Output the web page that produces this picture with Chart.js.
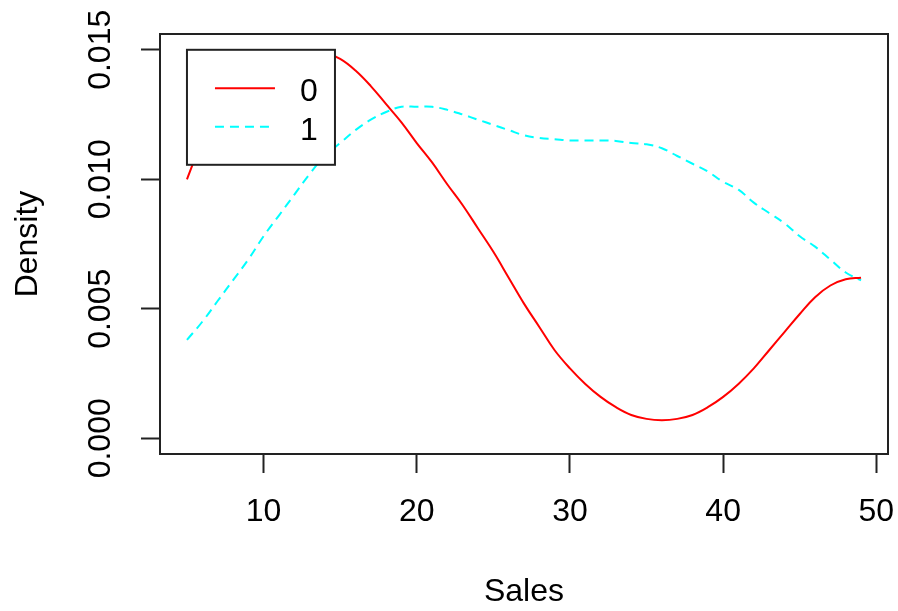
<!DOCTYPE html>
<html>
<head>
<meta charset="utf-8">
<script src="https://cdn.jsdelivr.net/npm/chart.js@4/dist/chart.umd.min.js"></script>
<style>
  html, body { margin: 0; padding: 0; background: #ffffff; }
  #wrap { width: 898px; height: 611px; }
</style>
</head>
<body>
<div id="wrap"><canvas id="c" width="898" height="611"></canvas></div>
<script>
// ---- data ----
const salesX = [5,6,7,8,9,10,11,12,13,14,15,16,17,18,19,20,21,22,23,24,25,26,27,28,29,30,31,32,33,34,35,36,37,38,39,40,41,42,43,44,45,46,47,48,49];
const density0 = [0.0100,0.0115,0.0127,0.0136,0.0142,0.0146,0.01485,0.01495,0.01495,0.01488,0.01465,0.0142,0.0136,0.0129,0.0122,0.0114,0.01065,0.0098,0.0090,0.0081,0.0072,0.0062,0.0052,0.0043,0.0034,0.0027,0.0021,0.0016,0.0012,0.0009,0.00075,0.0007,0.00075,0.0009,0.0012,0.0016,0.0021,0.0027,0.0034,0.0041,0.0048,0.00545,0.0059,0.00614,0.0062];
const density1 = [0.0038,0.0045,0.0053,0.0061,0.0069,0.0078,0.0086,0.0094,0.0102,0.0109,0.0114,0.0119,0.0123,0.0126,0.0128,0.0128,0.0128,0.01268,0.0125,0.0123,0.0121,0.0119,0.0117,0.0116,0.01155,0.0115,0.0115,0.0115,0.01148,0.0114,0.01135,0.0112,0.0109,0.0106,0.0103,0.0099,0.0096,0.0091,0.0087,0.0083,0.0078,0.0074,0.0069,0.0064,0.0061];
const seriesNames = ["0", "1"];
const xTicks = [10, 20, 30, 40, 50];
const yTicks = [0.000, 0.005, 0.010, 0.015];
const xTitle = "Sales";
const yTitle = "Density";

const FONT = "'Liberation Sans', Arial, sans-serif";
const FS = 32;

const toPts = (ys) => salesX.map((x, i) => ({ x: x, y: ys[i] }));

const boxPlugin = {
  id: 'rbox',
  afterDatasetsDraw(chart) {
    const ctx = chart.ctx;
    const xs = chart.scales.x, ys = chart.scales.y;
    ctx.save();
    // legend anchored at data position (5, 0.015), like R legend(5, 0.015, ...)
    const lx = xs.getPixelForValue(salesX[0]);
    const ly = ys.getPixelForValue(yTicks[yTicks.length - 1]);
    const lw = 148, lh = 115;
    ctx.fillStyle = '#ffffff';
    ctx.fillRect(lx, ly, lw, lh);
    ctx.lineWidth = 2;
    ctx.strokeStyle = '#222222';
    ctx.strokeRect(lx, ly, lw, lh);
    const ds = chart.data.datasets;
    const rowY = [ly + 38.5, ly + 77];
    ds.forEach((d, i) => {
      ctx.beginPath();
      ctx.strokeStyle = d.borderColor;
      ctx.lineWidth = 2;
      ctx.setLineDash(d.borderDash || []);
      ctx.moveTo(lx + 28, rowY[i]);
      ctx.lineTo(lx + 88, rowY[i]);
      ctx.stroke();
      ctx.setLineDash([]);
      ctx.fillStyle = '#000000';
      ctx.font = FS + 'px ' + FONT;
      ctx.textAlign = 'left';
      ctx.textBaseline = 'middle';
      ctx.fillText(d.label, lx + 113, rowY[i] + 4);
    });
    ctx.restore();
  },
  afterDraw(chart) {
    const ctx = chart.ctx;
    const a = chart.chartArea;
    ctx.save();
    ctx.lineWidth = 2;
    ctx.strokeStyle = '#222222';
    ctx.strokeRect(a.left, a.top, a.right - a.left, a.bottom - a.top);
    ctx.restore();
  }
};

new Chart(document.getElementById('c'), {
  type: 'line',
  data: {
    datasets: [
      { label: seriesNames[0], data: toPts(density0), borderColor: '#ff0000', borderWidth: 2,
        pointRadius: 0, fill: false, tension: 0.4 },
      { label: seriesNames[1], data: toPts(density1), borderColor: '#00ffff', borderWidth: 2,
        borderDash: [9, 6], pointRadius: 0, fill: false, tension: 0.4 }
    ]
  },
  options: {
    responsive: false,
    animation: false,
    layout: { padding: { top: 34, right: 10, left: 0, bottom: 0 } },
    plugins: { legend: { display: false }, tooltip: { enabled: false } },
    scales: {
      x: {
        type: 'linear',
        min: 3.24, max: 50.76,
        afterBuildTicks(s) { s.ticks = xTicks.map(v => ({ value: v })); },
        afterFit(s) { s.height = 157; s.paddingLeft = 0; s.paddingRight = 0; },
        border: { display: false },
        grid: { display: true, drawOnChartArea: false, drawTicks: true, tickLength: 19, tickWidth: 2, tickColor: '#222222' },
        ticks: { autoSkip: false, maxRotation: 0, padding: 20, color: '#000000', font: { family: FONT, size: FS },
                 callback: (v) => String(v) },
        title: { display: true, text: xTitle, color: '#000000', font: { family: FONT, size: FS }, padding: { top: 0, bottom: 0 } }
      },
      y: {
        type: 'linear',
        min: -0.000606, max: 0.01561,
        afterBuildTicks(s) { s.ticks = yTicks.map(v => ({ value: v })); },
        afterFit(s) { s.width = 160; s.paddingTop = 0; s.paddingBottom = 0; },
        border: { display: false },
        grid: { display: true, drawOnChartArea: false, drawTicks: true, tickLength: 19, tickWidth: 2, tickColor: '#222222' },
        ticks: { autoSkip: false, minRotation: 90, maxRotation: 90, crossAlign: 'center', padding: 0, color: '#000000',
                 font: { family: FONT, size: FS }, callback: (v) => Number(v).toFixed(3) },
        title: { display: true, text: yTitle, color: '#000000', font: { family: FONT, size: FS }, padding: { top: 9, bottom: 0 } }
      }
    }
  },
  plugins: [boxPlugin]
});
</script>
</body>
</html>
